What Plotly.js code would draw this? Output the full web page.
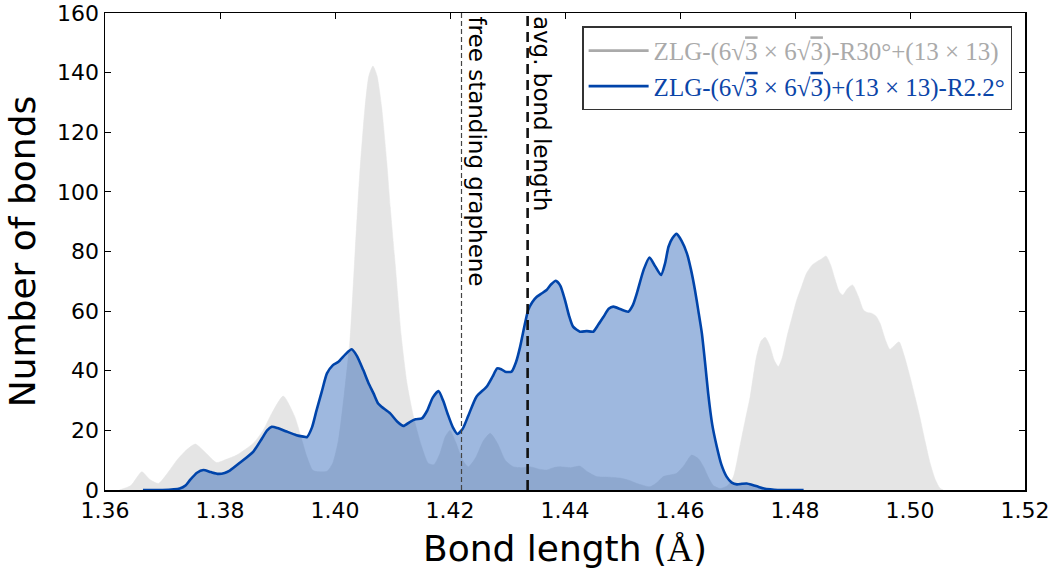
<!DOCTYPE html>
<html>
<head>
<meta charset="utf-8">
<script src="https://cdn.plot.ly/plotly-3.0.1.min.js"></script>
<style>html,body{margin:0;padding:0;background:#fff;}#chart{width:1058px;height:579px;}</style>
</head>
<body>
<div id="chart"></div>
<script>
// Gray series: ZLG-(6√3×6√3)-R30°+(13×13)
const grayX = [1.3625,1.3645,1.3664,1.3678,1.3693,1.3710,1.3725,1.3742,1.3757,1.3775,1.3794,1.3810,1.3829,1.3858,1.3875,1.3890,1.3910,1.3930,1.3942,1.3951,1.3962,1.3986,1.3996,1.4006,1.4016,1.4026,1.4035,1.4043,1.4052,1.4059,1.4066,1.4073,1.4081,1.4090,1.4096,1.4105,1.4115,1.4125,1.4136,1.4150,1.4162,1.4172,1.4182,1.4192,1.4200,1.4210,1.4222,1.4232,1.4245,1.4258,1.4270,1.4283,1.4296,1.4310,1.4325,1.4339,1.4355,1.4368,1.4380,1.4391,1.4410,1.4426,1.4440,1.4455,1.4476,1.4496,1.4512,1.4525,1.4548,1.4560,1.4571,1.4594,1.4608,1.4620,1.4632,1.4641,1.4650,1.4658,1.4670,1.4683,1.4693,1.4704,1.4713,1.4722,1.4733,1.4741,1.4748,1.4756,1.4764,1.4771,1.4778,1.4786,1.4795,1.4803,1.4812,1.4820,1.4830,1.4838,1.4846,1.4854,1.4862,1.4870,1.4877,1.4883,1.4891,1.4900,1.4910,1.4919,1.4926,1.4933,1.4941,1.4948,1.4957,1.4965,1.4973,1.4981,1.4990,1.5000,1.5009,1.5017,1.5026,1.5035,1.5044,1.5052,1.5058];
const grayY = [0,1.5,6.1,3.5,2.2,6,10,13.5,15.4,12.5,9.2,10.2,11.7,15.7,20,25.7,31.5,24.6,17,11.2,6.5,6.3,9,16.8,32,50.3,80,106,128,139,142.2,139,128.6,110,95,75,52,36,25,15,9,8.5,12,18,20,16,10,7.8,11,16.5,19,15.5,10,7.8,7.5,7.8,7,6.7,7.5,7.8,7.5,8,6,4.5,4.3,4,3.2,2.2,1.1,2.5,4.5,5.6,8.5,11.7,10.5,7.8,4,1.5,0.5,1.5,4.5,14.5,23,31.3,44.7,50,51.2,48.5,43.5,41.4,44.5,51.4,58,63.7,68.5,72.7,75.5,76.6,77.5,78.5,75.5,70.4,66.5,65.4,67.5,68.8,65,60.4,59.5,59.3,58.3,55.9,50.5,47.2,48.5,49.7,45,38,31,24.6,16.5,9,3.5,0.6,0];

// Blue series: ZLG-(6√3×6√3)+(13×13)-R2.2°
const blueX = [1.3666,1.3700,1.3730,1.3740,1.3748,1.3760,1.3771,1.3784,1.3797,1.3808,1.3817,1.3835,1.3858,1.3873,1.3882,1.3890,1.3900,1.3916,1.3933,1.3945,1.3951,1.3960,1.3968,1.3977,1.3986,1.3996,1.4006,1.4018,1.4029,1.4038,1.4049,1.4058,1.4067,1.4075,1.4081,1.4096,1.4108,1.4119,1.4130,1.4140,1.4151,1.4160,1.4170,1.4180,1.4188,1.4196,1.4205,1.4213,1.4222,1.4232,1.4246,1.4264,1.4274,1.4282,1.4289,1.4296,1.4307,1.4315,1.4322,1.4330,1.4336,1.4343,1.4351,1.4360,1.4368,1.4376,1.4384,1.4392,1.4400,1.4407,1.4414,1.4426,1.4438,1.4449,1.4458,1.4467,1.4476,1.4484,1.4497,1.4510,1.4518,1.4525,1.4537,1.4547,1.4557,1.4567,1.4574,1.4580,1.4587,1.4594,1.4603,1.4612,1.4619,1.4626,1.4632,1.4638,1.4644,1.4649,1.4656,1.4664,1.4672,1.4681,1.4690,1.4699,1.4708,1.4716,1.4726,1.4736,1.4746,1.4757,1.4770,1.4815];
const blueY = [0,0,0.5,1.5,3.4,5.8,6.7,6,5.4,5.7,6.5,9.2,12.9,17.3,20,21.2,20.8,19.6,18.4,17.9,17.7,21,26.8,33,39.1,41.8,43,45.5,47.2,45,40.3,36,32.4,29,27.9,25.7,23,21.5,22.8,23.7,24,26.5,31,33.2,30,25.5,21,18.8,20.5,25,31.3,34.7,38,40.8,40.5,39.7,39.7,43,48.1,55.5,60.4,63,64.8,66,67.1,69,70.2,68.5,63.7,58.5,54.8,53.1,53.3,53.1,55.5,58.1,60.8,61.5,60.6,59.8,62,66,74,78,75,72.1,76,81.6,84.5,85.9,83.5,79.4,74,67.1,60,52.6,42,32.4,22,14.5,8.5,4.5,2.5,1.9,2.1,2.2,1.7,1.1,0.5,0.2,0,0];

// Reference lines
const refLineX = [1.422, 1.4335];
const refLineLabels = ['free standing graphene', 'avg. bond length'];

const sqrt3 = '√<span style="text-decoration:overline">3</span>';
const seriesNames = [
  'ZLG-(6' + sqrt3 + ' × 6' + sqrt3 + ')-R30°+(13 × 13)',
  'ZLG-(6' + sqrt3 + ' × 6' + sqrt3 + ')+(13 × 13)-R2.2°'
];
const xTicks = [1.36,1.38,1.40,1.42,1.44,1.46,1.48,1.50,1.52];
const xTickText = ['1.36','1.38','1.40','1.42','1.44','1.46','1.48','1.50','1.52'];
const yTicks = [0,20,40,60,80,100,120,140,160];

const grayCol = '#e5e5e5';
const blueLine = '#0044aa';

const traces = [
  {x: grayX, y: grayY, type: 'scatter', mode: 'lines', fill: 'tozeroy',
   fillcolor: grayCol, line: {color: grayCol, width: 0.5, shape: 'spline', smoothing: 0.6},
   showlegend: false, hoverinfo: 'skip'},
  {x: blueX, y: blueY, type: 'scatter', mode: 'lines', fill: 'tozeroy',
   fillcolor: 'rgba(0,68,170,0.38)', line: {color: blueLine, width: 2.6, shape: 'spline', smoothing: 0.6},
   showlegend: false, hoverinfo: 'skip'},
  {x: [null], y: [null], type: 'scatter', mode: 'lines',
   line: {color: '#aaaaaa', width: 2.6},
   name: '<span style="color:#aaaaaa">' + seriesNames[0] + '</span>'},
  {x: [null], y: [null], type: 'scatter', mode: 'lines',
   line: {color: blueLine, width: 2.6},
   name: '<span style="color:#0b45a8">' + seriesNames[1] + '</span>'}
];

const shapes = [
  {type: 'line', xref: 'x', yref: 'paper', x0: refLineX[0], x1: refLineX[0], y0: 0, y1: 1,
   line: {color: '#444444', width: 1.2, dash: '5px,3px'}},
  {type: 'line', xref: 'x', yref: 'paper', x0: refLineX[1], x1: refLineX[1], y0: 0, y1: 1,
   line: {color: '#111111', width: 2.6, dash: '10px,6px'}}
];

const annotations = refLineX.map((xv, i) => ({
  x: xv, xref: 'x', y: 1, yref: 'paper', text: refLineLabels[i],
  textangle: 90, showarrow: false, xanchor: 'left', yanchor: 'top',
  xshift: 0, yshift: -1,
  font: {family: 'DejaVu Sans', size: 23, color: '#000'}
}));

const layout = {
  width: 1058, height: 579,
  margin: {l: 105, r: 33, t: 13, b: 89, pad: 0},
  paper_bgcolor: '#ffffff', plot_bgcolor: '#ffffff',
  font: {family: 'DejaVu Sans', color: '#000'},
  xaxis: {
    range: [1.36, 1.52], tickvals: xTicks, ticktext: xTickText,
    ticks: 'inside', ticklen: 6, tickwidth: 1, tickcolor: '#000',
    showline: true, linecolor: '#000', linewidth: 1.5, mirror: 'ticks',
    showgrid: false, zeroline: false, layer: 'below traces',
    tickfont: {family: 'DejaVu Sans', size: 22, color: '#000'},
    title: {text: 'Bond length (<span style="font-family:Liberation Serif">Å</span>)', font: {family: 'DejaVu Sans', size: 36, color: '#000'}, standoff: 14},
    automargin: false
  },
  yaxis: {
    range: [0, 160], tickvals: yTicks,
    ticks: 'inside', ticklen: 6, tickwidth: 1, tickcolor: '#000',
    showline: true, linecolor: '#000', linewidth: 1.5, mirror: 'ticks',
    showgrid: false, zeroline: false, layer: 'below traces',
    tickfont: {family: 'DejaVu Sans', size: 22, color: '#000'},
    title: {text: 'Number of bonds', font: {family: 'DejaVu Sans', size: 36, color: '#000'}, standoff: 10},
    automargin: false
  },
  showlegend: true,
  legend: {
    x: 0.986, y: 0.972, xanchor: 'right', yanchor: 'top',
    bgcolor: '#ffffff', bordercolor: '#333333', borderwidth: 1.5,
    font: {family: 'Liberation Serif', size: 25, color: '#000'},
    itemwidth: 60, tracegroupgap: 0
  },
  shapes: shapes,
  annotations: annotations
};

Plotly.newPlot('chart', traces, layout, {displayModeBar: false, staticPlot: true});
</script>
</body>
</html>
